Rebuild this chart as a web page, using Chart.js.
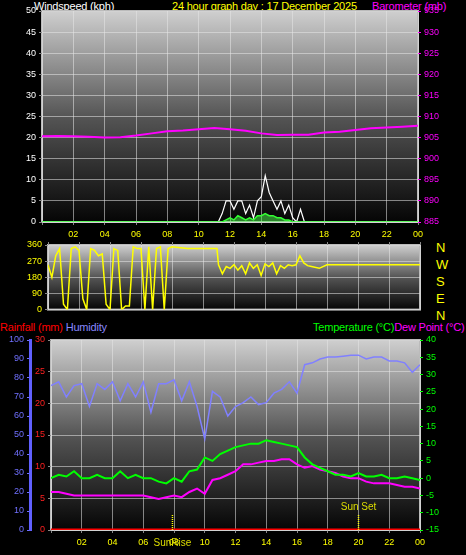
<!DOCTYPE html>
<html><head><meta charset="utf-8">
<script src="https://cdn.jsdelivr.net/npm/chart.js@4"></script>
<style>
body{margin:0;background:#000;width:466px;height:555px;overflow:hidden;position:relative;font-family:"Liberation Sans",Arial,sans-serif}
canvas{position:absolute;left:0}
.t{position:absolute;font-size:11px;white-space:nowrap;line-height:12px;letter-spacing:-0.2px}
</style></head><body>
<div class="t" style="left:34px;top:0;color:#fff">Windspeed (kph)</div>
<div class="t" style="left:172px;top:0;color:#ff0">24 hour graph day : 17 December 2025</div>
<div class="t" style="left:372px;top:0;color:#f0f">Barometer (mb)</div>
<div class="t" style="left:0;top:321px;color:#f00">Rainfall (mm) <span style="color:#88f">Humidity</span></div>
<div class="t" style="left:313px;top:321px;color:#0f0">Temperature (°C)<span style="color:#f0f">Dew Point (°C)</span></div>
<div class="t" style="left:436px;top:239px;color:#ff0;font-size:13px;line-height:17px">N<br>W<br>S<br>E<br>N</div>
<canvas id="c2" style="top:225px"></canvas>
<canvas id="c1" style="top:0"></canvas>
<canvas id="c3" style="top:330px"></canvas>
<script>
// ---- data ----
const pressHours = [0,1,2,3,4,5,6,7,8,9,10,11,12,13,14,15,16,17,18,19,20,21,22,23,24];
const pressure = [905.3,905.4,905.3,905.2,905,905.1,905.5,906,906.5,906.7,907,907.3,907,906.6,906,905.6,905.7,905.7,906.2,906.4,906.8,907.2,907.4,907.6,907.8];
const windHours = [0,11.25,11.5,11.75,12,12.25,12.5,12.75,13,13.25,13.5,13.75,14,14.25,14.5,14.75,15,15.25,15.5,15.75,16,16.25,16.5,16.75,24];
const gust = [0,0,2,5,5,3,5,5,2,4,1,5,6,11,7,5,3,5,2,4,1,0,3,0,0];
const avgWind = [0,0,0,0.5,1,0.5,1.5,1,0.5,1,0.5,1.5,1.5,2,1.5,1.5,1,1,0.5,0.5,0,0,0,0,0];
const dirHours = [0,0.25,0.5,0.75,1,1.25,1.5,1.75,2,2.25,2.5,2.75,3,3.25,3.5,3.75,4,4.25,4.5,4.75,5,5.25,5.5,5.75,6,6.25,6.5,6.75,7,7.25,7.5,7.75,8,9,10,10.9,11,11.25,11.5,11.75,12,12.25,12.5,12.75,13,13.25,13.5,13.75,14,14.25,14.5,14.75,15,15.25,15.5,15.75,16,16.25,16.5,16.75,17,17.5,18,24];
const direction = [250,180,300,340,30,0,340,350,330,60,0,340,330,300,310,30,0,340,330,0,20,20,350,340,340,0,350,0,340,350,0,340,350,340,340,340,250,200,240,230,250,220,245,200,260,230,250,190,255,240,260,200,245,230,250,245,250,300,260,245,240,230,250,250];
const halfHours = [0,0.5,1,1.5,2,2.5,3,3.5,4,4.5,5,5.5,6,6.5,7,7.5,8,8.5,9,9.5,10,10.5,11,11.5,12,12.5,13,13.5,14,14.5,15,15.5,16,16.5,17,17.5,18,18.5,19,19.5,20,20.5,21,21.5,22,22.5,23,23.5,24];
const temperature = [0,1,0.5,2,0,0,1,0,0,2,0,1,0,0,-1,-1.5,0,-1,2,2.5,6,5,7,8,9,9.5,10,10,11,10.5,10,9.5,9,6,4,3,2,1,1,0.5,1.5,0.5,0.5,1,0,0,0.5,0,-0.5];
const dewPoint = [-4,-4,-4.5,-5,-5,-5,-5,-5,-5,-5,-5,-5,-5,-5.5,-6,-5.5,-5,-5.5,-4,-3,-4.5,-0.5,0,1,2,4,4,4.5,5,5,5.5,5.5,4,3,3.5,2.5,2,1.5,0.5,0,0,-1,-1.5,-1.5,-1.5,-2,-2.5,-2.5,-3];
const humidity = [76,78,70,76,77,65,77,74,78,68,77,70,78,62,77,77,79,68,78,65,48,73,70,60,65,67,70,66,67,72,74,78,72,87,88,90,91,91,91.5,92,92,90,91,91,89,89,88,83,87];
const rainHours = [0,24];
const rainfall = [0,0];
const sunRise = 7.9, sunSet = 20;

const pts = (xs, ys) => xs.map((x, i) => ({x, y: ys[i]}));
const FONT = {family: '"Liberation Sans", Arial, sans-serif', size: 9};
const grid = {color: 'rgba(230,230,230,0.55)', tickColor: '#888', tickLength: 3};

const panelBg = {
  id: 'panelBg',
  beforeDraw(chart) {
    const a = chart.chartArea, ctx = chart.ctx;
    const g = ctx.createLinearGradient(0, a.top, 0, a.bottom);
    g.addColorStop(0, '#cfcfcf');
    g.addColorStop(0.5, '#555');
    g.addColorStop(1, '#050505');
    ctx.save();
    ctx.fillStyle = g;
    ctx.fillRect(a.left, a.top, a.right - a.left, a.bottom - a.top);
    ctx.strokeStyle = '#bbb';
    ctx.lineWidth = 2;
    ctx.strokeRect(a.left, a.top, a.right - a.left, a.bottom - a.top);
    ctx.restore();
  }
};

function xAxis(pos, h, showLabels) {
  return {
    type: 'linear', min: 0, max: 24, position: pos,
    afterFit: s => { s.height = h; },
    grid: Object.assign({borderDash: [1, 2]}, grid),
    border: {display: false},
    ticks: {display: showLabels, stepSize: 2, color: '#ff0', font: FONT, padding: 4, maxRotation: 0,
      callback: v => v === 0 ? '' : String(v % 24).padStart(2, '0')}
  };
}
function yAxis(pos, w, min, max, step, color, showGrid, borderColor) {
  return {
    position: pos, min, max, afterFit: s => { s.width = w; },
    grid: showGrid ? Object.assign({borderDash: [1, 2]}, grid) : {display: true, drawOnChartArea: false, tickColor: color, tickLength: 3},
    border: borderColor ? {display: true, color: borderColor, width: 3} : {display: false},
    ticks: {stepSize: step, color, font: FONT, padding: 3}
  };
}
const base = {responsive: false, animation: false, plugins: {legend: {display: false}, tooltip: {enabled: false}},
  elements: {point: {radius: 0}, line: {borderWidth: 1.5, tension: 0}}};

function setup(id, h) {
  const c = document.getElementById(id);
  c.width = 466; c.height = h;
  return c.getContext('2d');
}

// panel 1: wind + barometer
new Chart(setup('c1', 245), {
  type: 'line',
  data: {datasets: [
    {data: pts(pressHours, pressure), borderColor: '#ff00ff', yAxisID: 'yp', borderWidth: 2},
    {data: pts(windHours, avgWind), borderColor: '#33ff33', backgroundColor: 'rgba(80,255,80,0.5)', fill: 'origin', yAxisID: 'y'},
    {data: pts(windHours, gust), borderColor: '#ffffff', yAxisID: 'y', borderWidth: 1.2}
  ]},
  options: Object.assign({}, base, {
    layout: {padding: {top: 11, right: 0}},
    scales: {
      x: xAxis('bottom', 23, true),
      y: yAxis('left', 42, 0, 50, 5, '#fff', true),
      yp: yAxis('right', 48, 885, 935, 5, '#f0f', false)
    }
  }),
  plugins: [panelBg]
});

// panel 2: wind direction (shares panel 1 hour labels)
new Chart(setup('c2', 93), {
  type: 'line',
  data: {datasets: [
    {data: pts(dirHours, direction), borderColor: '#ffff00', borderWidth: 1.5}
  ]},
  options: Object.assign({}, base, {
    layout: {padding: {top: 0, right: 46, bottom: 6}},
    scales: {
      x: xAxis('top', 20, false),
      y: yAxis('left', 48, 0, 360, 90, '#ff0', true)
    }
  }),
  plugins: [panelBg]
});

// panel 3: temperature, dew point, humidity, rain
const sunLines = {
  id: 'sunLines',
  afterDatasetsDraw(chart) {
    const ctx = chart.ctx, x = chart.scales.x, a = chart.chartArea;
    ctx.save();
    ctx.strokeStyle = '#ff0'; ctx.setLineDash([1, 1]); ctx.lineWidth = 1.5;
    [sunRise, sunSet].forEach(h => {
      const px = x.getPixelForValue(h);
      ctx.beginPath(); ctx.moveTo(px, a.bottom); ctx.lineTo(px, a.bottom - 16); ctx.stroke();
    });
    ctx.setLineDash([]);
    ctx.fillStyle = '#dd0'; ctx.font = '10px "Liberation Sans", Arial'; ctx.textAlign = 'center';
    ctx.fillText('Sun Set', x.getPixelForValue(sunSet), a.bottom - 20);
    ctx.fillText('SunRise', x.getPixelForValue(sunRise), a.bottom + 16);
    ctx.restore();
  }
};
new Chart(setup('c3', 225), {
  type: 'line',
  data: {datasets: [
    {data: pts(halfHours, humidity), borderColor: '#8080ff', yAxisID: 'yh'},
    {data: pts(halfHours, temperature), borderColor: '#00ff00', yAxisID: 'yt', borderWidth: 2},
    {data: pts(halfHours, dewPoint), borderColor: '#ff00ff', yAxisID: 'yt', borderWidth: 2},
    {data: pts(rainHours, rainfall), borderColor: '#ff0000', yAxisID: 'yr', borderWidth: 3}
  ]},
  options: Object.assign({}, base, {
    layout: {padding: {top: 10}},
    scales: {
      x: xAxis('bottom', 25, true),
      yr: yAxis('left', 21, 0, 30, 5, '#ff2020', true),
      yh: yAxis('left', 30, 0, 100, 10, '#7070ff', false, '#6060ff'),
      yt: yAxis('right', 46, -15, 40, 5, '#00ff00', false)
    }
  }),
  plugins: [panelBg, sunLines]
});
</script>
</body></html>
